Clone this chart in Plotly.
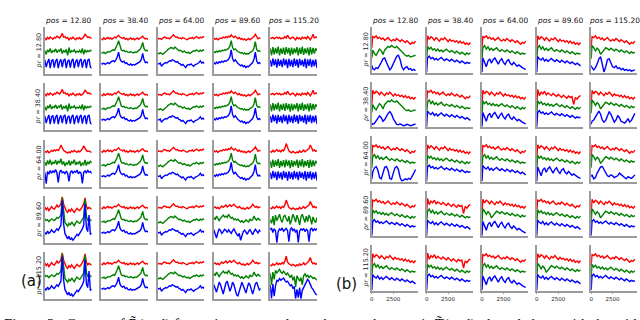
import plotly.graph_objects as go

# ---- panel (a): x index and curves (red / green / blue) ----
XA = [0, 1, 2, 3, 4, 5, 6, 7, 8, 9, 10, 11,
      12, 13, 14, 15, 16, 17, 18, 19, 20, 21, 22, 23,
      24, 25, 26, 27, 28, 29, 30, 31, 32, 33, 34, 35]

a1_r = [0.78, 0.74, 0.79, 0.76, 0.80, 0.77, 0.75, 0.79, 0.78, 0.82, 0.80, 0.78,
        0.82, 0.88, 0.80, 0.81, 0.77, 0.79, 0.73, 0.78, 0.76, 0.80, 0.77, 0.74,
        0.78, 0.76, 0.79, 0.75, 0.77, 0.80, 0.86, 0.81, 0.79, 0.80, 0.78, 0.77]
a1_g = [0.50, 0.42, 0.52, 0.47, 0.55, 0.45, 0.50, 0.48, 0.54, 0.46, 0.51, 0.49,
        0.55, 0.44, 0.50, 0.47, 0.53, 0.40, 0.57, 0.45, 0.50, 0.48, 0.52, 0.46,
        0.49, 0.47, 0.51, 0.45, 0.55, 0.42, 0.52, 0.47, 0.50, 0.48, 0.51, 0.49]
a1_b = [0.30, 0.14, 0.25, 0.32, 0.12, 0.28, 0.31, 0.13, 0.27, 0.32, 0.12, 0.26,
        0.31, 0.14, 0.29, 0.32, 0.12, 0.27, 0.30, 0.13, 0.28, 0.32, 0.12, 0.26,
        0.31, 0.14, 0.28, 0.32, 0.13, 0.27, 0.31, 0.12, 0.29, 0.32, 0.14, 0.12]

a2_r = [0.76, 0.74, 0.78, 0.75, 0.77, 0.79, 0.76, 0.78, 0.75, 0.77, 0.80, 0.78,
        0.81, 0.84, 0.80, 0.78, 0.77, 0.79, 0.75, 0.77, 0.74, 0.76, 0.78, 0.75,
        0.77, 0.74, 0.76, 0.78, 0.75, 0.77, 0.80, 0.82, 0.78, 0.76, 0.77, 0.75]
a2_g = [0.46, 0.45, 0.47, 0.44, 0.46, 0.48, 0.47, 0.49, 0.50, 0.52, 0.51, 0.56,
        0.63, 0.72, 0.58, 0.52, 0.50, 0.51, 0.48, 0.49, 0.47, 0.46, 0.48, 0.47,
        0.45, 0.47, 0.46, 0.48, 0.50, 0.53, 0.58, 0.68, 0.55, 0.50, 0.51, 0.49]
a2_b = [0.22, 0.21, 0.23, 0.20, 0.22, 0.24, 0.22, 0.25, 0.27, 0.28, 0.26, 0.30,
        0.36, 0.47, 0.32, 0.27, 0.25, 0.27, 0.22, 0.24, 0.20, 0.19, 0.21, 0.18,
        0.20, 0.19, 0.21, 0.22, 0.24, 0.26, 0.31, 0.44, 0.30, 0.24, 0.25, 0.23]

a3_r = [0.78, 0.76, 0.77, 0.75, 0.78, 0.80, 0.79, 0.77, 0.78, 0.76, 0.79, 0.82,
        0.85, 0.81, 0.79, 0.80, 0.77, 0.78, 0.76, 0.79, 0.77, 0.75, 0.74, 0.76,
        0.78, 0.77, 0.79, 0.76, 0.78, 0.81, 0.79, 0.77, 0.80, 0.78, 0.81, 0.79]
a3_g = [0.45, 0.43, 0.46, 0.44, 0.42, 0.45, 0.47, 0.50, 0.53, 0.55, 0.57, 0.56,
        0.54, 0.58, 0.55, 0.52, 0.50, 0.51, 0.48, 0.47, 0.49, 0.46, 0.45, 0.47,
        0.44, 0.46, 0.48, 0.50, 0.49, 0.52, 0.50, 0.48, 0.51, 0.49, 0.52, 0.50]
a3_b = [0.22, 0.21, 0.23, 0.16, 0.20, 0.22, 0.24, 0.23, 0.26, 0.28, 0.27, 0.30,
        0.29, 0.27, 0.25, 0.26, 0.22, 0.21, 0.18, 0.20, 0.17, 0.13, 0.18, 0.20,
        0.19, 0.21, 0.18, 0.16, 0.19, 0.20, 0.22, 0.24, 0.28, 0.23, 0.25, 0.22]

a4_r = [0.78, 0.75, 0.77, 0.74, 0.76, 0.78, 0.77, 0.80, 0.78, 0.81, 0.79, 0.82,
        0.80, 0.85, 0.81, 0.79, 0.82, 0.78, 0.76, 0.79, 0.75, 0.77, 0.74, 0.76,
        0.73, 0.75, 0.77, 0.74, 0.76, 0.79, 0.81, 0.86, 0.80, 0.76, 0.78, 0.77]
a4_g = [0.48, 0.46, 0.49, 0.47, 0.50, 0.48, 0.51, 0.50, 0.52, 0.51, 0.53, 0.55,
        0.60, 0.72, 0.57, 0.52, 0.54, 0.50, 0.48, 0.47, 0.45, 0.46, 0.43, 0.45,
        0.42, 0.44, 0.43, 0.46, 0.48, 0.50, 0.56, 0.70, 0.53, 0.49, 0.50, 0.48]
a4_b = [0.24, 0.21, 0.25, 0.22, 0.26, 0.24, 0.27, 0.25, 0.28, 0.27, 0.29, 0.31,
        0.37, 0.52, 0.33, 0.27, 0.30, 0.25, 0.22, 0.20, 0.17, 0.19, 0.15, 0.17,
        0.13, 0.16, 0.15, 0.18, 0.21, 0.24, 0.32, 0.47, 0.28, 0.22, 0.24, 0.21]

a5_r = [0.78, 0.77, 0.79, 0.76, 0.78, 0.80, 0.77, 0.79, 0.76, 0.78, 0.77, 0.81,
        0.78, 0.84, 0.79, 0.76, 0.78, 0.80, 0.77, 0.74, 0.79, 0.76, 0.78, 0.75,
        0.80, 0.77, 0.79, 0.76, 0.81, 0.78, 0.74, 0.79, 0.86, 0.78, 0.80, 0.79]
a5_g = [0.55, 0.40, 0.58, 0.42, 0.56, 0.44, 0.59, 0.40, 0.55, 0.43, 0.57, 0.41,
        0.58, 0.44, 0.56, 0.39, 0.57, 0.42, 0.55, 0.45, 0.58, 0.40, 0.56, 0.43,
        0.59, 0.41, 0.55, 0.44, 0.57, 0.40, 0.58, 0.42, 0.56, 0.44, 0.55, 0.50]
a5_b = [0.30, 0.15, 0.33, 0.18, 0.31, 0.13, 0.32, 0.17, 0.30, 0.14, 0.33, 0.18,
        0.31, 0.12, 0.32, 0.16, 0.30, 0.14, 0.33, 0.17, 0.31, 0.13, 0.32, 0.18,
        0.30, 0.15, 0.33, 0.12, 0.31, 0.17, 0.32, 0.14, 0.30, 0.16, 0.31, 0.12]

a31_r = [0.76, 0.74, 0.77, 0.73, 0.75, 0.78, 0.76, 0.79, 0.77, 0.80, 0.78, 0.82,
         0.90, 0.84, 0.78, 0.76, 0.74, 0.72, 0.75, 0.73, 0.77, 0.75, 0.78, 0.76,
         0.74, 0.77, 0.75, 0.78, 0.81, 0.88, 0.82, 0.78, 0.76, 0.77, 0.75, 0.74]
a31_g = [0.52, 0.45, 0.56, 0.48, 0.58, 0.46, 0.53, 0.49, 0.57, 0.47, 0.55, 0.50,
         0.60, 0.47, 0.54, 0.44, 0.51, 0.48, 0.56, 0.45, 0.53, 0.50, 0.58, 0.46,
         0.52, 0.48, 0.55, 0.44, 0.50, 0.47, 0.57, 0.45, 0.53, 0.49, 0.55, 0.50]
a31_b = [0.30, 0.05, 0.32, 0.26, 0.34, 0.28, 0.33, 0.30, 0.36, 0.29, 0.08, 0.30,
         0.35, 0.29, 0.31, 0.27, 0.33, 0.28, 0.10, 0.29, 0.34, 0.28, 0.32, 0.30,
         0.35, 0.27, 0.31, 0.29, 0.06, 0.30, 0.33, 0.28, 0.35, 0.30, 0.32, 0.27]

a41_r = [0.78, 0.72, 0.76, 0.70, 0.74, 0.79, 0.75, 0.73, 0.77, 0.82, 0.78, 0.80,
         0.86, 1.00, 0.84, 0.76, 0.70, 0.66, 0.72, 0.68, 0.74, 0.70, 0.66, 0.71,
         0.75, 0.72, 0.70, 0.74, 0.78, 0.84, 0.98, 0.80, 0.74, 0.77, 0.75, 0.73]
a41_g = [0.52, 0.48, 0.50, 0.46, 0.49, 0.52, 0.50, 0.48, 0.51, 0.55, 0.53, 0.56,
         0.60, 0.98, 0.62, 0.44, 0.40, 0.36, 0.42, 0.38, 0.45, 0.40, 0.37, 0.43,
         0.47, 0.44, 0.42, 0.46, 0.50, 0.56, 0.95, 0.58, 0.48, 0.52, 0.50, 0.47]
a41_b = [0.22, 0.18, 0.25, 0.20, 0.23, 0.28, 0.24, 0.22, 0.26, 0.30, 0.27, 0.32,
         0.38, 0.92, 0.40, 0.20, 0.12, 0.08, 0.14, 0.06, 0.10, 0.05, 0.09, 0.14,
         0.18, 0.15, 0.20, 0.24, 0.30, 0.38, 0.85, 0.32, 0.24, 0.60, 0.18, 0.20]

a44_r = [0.76, 0.78, 0.75, 0.77, 0.74, 0.78, 0.80, 0.77, 0.79, 0.82, 0.78, 0.80,
         0.83, 0.79, 0.81, 0.84, 0.80, 0.78, 0.76, 0.79, 0.77, 0.74, 0.76, 0.73,
         0.75, 0.77, 0.74, 0.76, 0.79, 0.84, 0.80, 0.77, 0.79, 0.76, 0.78, 0.77]
a44_g = [0.55, 0.50, 0.58, 0.52, 0.48, 0.53, 0.57, 0.60, 0.56, 0.58, 0.55, 0.62,
         0.57, 0.53, 0.55, 0.50, 0.52, 0.49, 0.51, 0.47, 0.45, 0.48, 0.44, 0.46,
         0.50, 0.47, 0.45, 0.52, 0.48, 0.50, 0.58, 0.52, 0.49, 0.53, 0.50, 0.48]
a44_b = [0.28, 0.18, 0.10, 0.22, 0.30, 0.26, 0.20, 0.24, 0.29, 0.27, 0.22, 0.28,
         0.25, 0.20, 0.26, 0.30, 0.24, 0.18, 0.14, 0.20, 0.05, 0.15, 0.24, 0.27,
         0.22, 0.18, 0.25, 0.28, 0.23, 0.17, 0.24, 0.29, 0.25, 0.21, 0.27, 0.24]
a54_b = [0.30, 0.22, 0.14, 0.25, 0.36, 0.30, 0.18, 0.10, 0.22, 0.34, 0.38, 0.28,
         0.16, 0.24, 0.36, 0.30, 0.20, 0.08, 0.06, 0.18, 0.30, 0.36, 0.28, 0.18,
         0.12, 0.24, 0.34, 0.30, 0.18, 0.10, 0.20, 0.32, 0.36, 0.26, 0.18, 0.22]

a45_r = [0.76, 0.74, 0.78, 0.75, 0.77, 0.80, 0.76, 0.78, 0.75, 0.79, 0.77, 0.83,
         0.93, 0.82, 0.77, 0.75, 0.73, 0.76, 0.74, 0.72, 0.75, 0.73, 0.77, 0.74,
         0.76, 0.79, 0.75, 0.77, 0.80, 0.82, 0.90, 0.81, 0.77, 0.79, 0.76, 0.78]
a45_g = [0.50, 0.42, 0.58, 0.38, 0.60, 0.48, 0.55, 0.62, 0.50, 0.44, 0.57, 0.60,
         0.52, 0.46, 0.58, 0.40, 0.50, 0.62, 0.55, 0.45, 0.60, 0.52, 0.38, 0.56,
         0.62, 0.50, 0.44, 0.58, 0.46, 0.60, 0.54, 0.40, 0.56, 0.48, 0.44, 0.55]
a45_b = [0.28, 0.32, 0.22, 0.30, 0.26, 0.00, 0.24, 0.30, 0.27, 0.32, 0.25, 0.29,
         0.31, 0.26, 0.02, 0.28, 0.32, 0.26, 0.30, 0.22, 0.28, 0.00, 0.25, 0.30,
         0.27, 0.31, 0.24, 0.29, 0.26, 0.02, 0.28, 0.32, 0.25, 0.30, 0.27, 0.31]

a55_r = [0.74, 0.72, 0.76, 0.73, 0.75, 0.78, 0.74, 0.77, 0.75, 0.79, 0.76, 0.82,
         0.93, 0.80, 0.76, 0.74, 0.72, 0.75, 0.73, 0.71, 0.74, 0.72, 0.76, 0.73,
         0.75, 0.78, 0.74, 0.76, 0.79, 0.83, 0.90, 0.80, 0.76, 0.78, 0.75, 0.77]
a55_g = [0.55, 0.30, 0.58, 0.42, 0.62, 0.56, 0.60, 0.64, 0.58, 0.55, 0.60, 0.57,
         0.52, 0.56, 0.50, 0.46, 0.52, 0.40, 0.48, 0.25, 0.50, 0.44, 0.38, 0.46,
         0.30, 0.50, 0.54, 0.48, 0.52, 0.45, 0.50, 0.48, 0.44, 0.46, 0.42, 0.40]
a55_b = [0.30, 0.00, 0.32, 0.05, 0.28, 0.40, 0.38, 0.44, 0.40, 0.42, 0.45, 0.40,
         0.36, 0.38, 0.32, 0.28, 0.30, 0.22, 0.26, 0.00, 0.20, 0.02, 0.24, 0.00,
         0.18, 0.24, 0.30, 0.36, 0.42, 0.38, 0.30, 0.24, 0.20, 0.14, 0.10, 0.08]

# ---- panel (b): step axis and curves ----
XB = [0, 100, 300, 500, 700, 900, 1100, 1300, 1500,
      1700, 1900, 2100, 2300, 2500, 2700, 2900, 3100, 3300,
      3500, 3700, 3900, 4100, 4300, 4500, 4700, 4900, 5100]

b_r1 = [0.55, 0.80, 0.78, 0.82, 0.76, 0.79, 0.74, 0.77, 0.72,
        0.75, 0.78, 0.73, 0.70, 0.74, 0.71, 0.76, 0.72, 0.69,
        0.73, 0.70, 0.67, 0.71, 0.66, 0.63, 0.67, 0.65, 0.70]
b_r2 = [0.50, 0.82, 0.74, 0.80, 0.77, 0.72, 0.78, 0.74, 0.70,
        0.76, 0.73, 0.78, 0.72, 0.69, 0.74, 0.70, 0.72, 0.68,
        0.71, 0.66, 0.70, 0.65, 0.68, 0.63, 0.66, 0.62, 0.67]
b_r3 = [0.52, 0.84, 0.70, 0.78, 0.74, 0.80, 0.72, 0.76, 0.73,
        0.70, 0.75, 0.72, 0.68, 0.73, 0.70, 0.66, 0.71, 0.68,
        0.64, 0.69, 0.66, 0.68, 0.50, 0.66, 0.62, 0.68, 0.70]
b_g1 = [0.30, 0.55, 0.60, 0.52, 0.57, 0.50, 0.54, 0.49, 0.52,
        0.55, 0.50, 0.47, 0.51, 0.48, 0.46, 0.50, 0.47, 0.44,
        0.48, 0.45, 0.42, 0.46, 0.43, 0.40, 0.43, 0.41, 0.42]
b_g2 = [0.28, 0.58, 0.52, 0.56, 0.50, 0.53, 0.48, 0.52, 0.47,
        0.50, 0.46, 0.49, 0.52, 0.48, 0.45, 0.49, 0.46, 0.43,
        0.47, 0.44, 0.41, 0.45, 0.42, 0.39, 0.43, 0.40, 0.44]
b_g3 = [0.30, 0.60, 0.55, 0.48, 0.54, 0.50, 0.40, 0.45, 0.52,
        0.55, 0.53, 0.50, 0.54, 0.51, 0.48, 0.52, 0.49, 0.46,
        0.50, 0.47, 0.44, 0.48, 0.45, 0.42, 0.46, 0.43, 0.45]
b_gw = [0.32, 0.50, 0.42, 0.38, 0.45, 0.52, 0.48, 0.40, 0.50,
        0.55, 0.58, 0.56, 0.60, 0.57, 0.55, 0.58, 0.54, 0.50,
        0.44, 0.40, 0.38, 0.36, 0.38, 0.34, 0.35, 0.37, 0.38]
b_b1 = [0.00, 0.32, 0.36, 0.30, 0.33, 0.28, 0.31, 0.27, 0.30,
        0.33, 0.29, 0.26, 0.30, 0.28, 0.25, 0.29, 0.26, 0.23,
        0.27, 0.24, 0.21, 0.25, 0.22, 0.19, 0.22, 0.20, 0.21]
b_b2 = [0.00, 0.35, 0.30, 0.27, 0.32, 0.25, 0.29, 0.24, 0.28,
        0.31, 0.27, 0.24, 0.28, 0.25, 0.22, 0.27, 0.24, 0.21,
        0.25, 0.22, 0.19, 0.23, 0.20, 0.17, 0.20, 0.16, 0.14]
b_b3 = [0.00, 0.32, 0.22, 0.12, 0.25, 0.30, 0.20, 0.28, 0.32,
        0.24, 0.18, 0.26, 0.30, 0.22, 0.17, 0.25, 0.28, 0.20,
        0.16, 0.22, 0.18, 0.13, 0.16, 0.12, 0.10, 0.08, 0.06]
b_bw1 = [0.15, 0.08, 0.05, 0.10, 0.08, 0.14, 0.22, 0.30, 0.32,
         0.22, 0.12, 0.05, 0.10, 0.20, 0.30, 0.36, 0.38, 0.28,
         0.12, 0.05, 0.10, 0.12, 0.06, 0.08, 0.04, 0.06, 0.03]
b_bw2 = [0.08, 0.05, 0.07, 0.12, 0.18, 0.24, 0.20, 0.12, 0.16,
         0.24, 0.30, 0.34, 0.28, 0.18, 0.10, 0.05, 0.04, 0.06,
         0.04, 0.02, 0.03, 0.05, 0.04, 0.02, 0.03, 0.05, 0.06]
b_bw3 = [0.05, 0.20, 0.30, 0.33, 0.25, 0.08, 0.05, 0.20, 0.31,
         0.33, 0.24, 0.06, 0.04, 0.18, 0.30, 0.33, 0.26, 0.08,
         0.00, 0.02, 0.05, 0.03, 0.06, 0.04, 0.10, 0.18, 0.26]
b_bw5a = [0.15, 0.10, 0.05, 0.10, 0.18, 0.30, 0.35, 0.20, 0.00,
          0.12, 0.28, 0.30, 0.20, 0.12, 0.10, 0.14, 0.08, 0.10,
          0.05, 0.08, 0.04, 0.06, 0.03, 0.05, 0.02, 0.04, 0.05]
b_bw5b = [0.05, 0.12, 0.15, 0.22, 0.30, 0.35, 0.28, 0.15, 0.10,
          0.14, 0.24, 0.33, 0.28, 0.18, 0.10, 0.15, 0.25, 0.20,
          0.12, 0.10, 0.08, 0.12, 0.18, 0.10, 0.14, 0.22, 0.30]
b_bw5c = [0.10, 0.14, 0.05, 0.08, 0.18, 0.26, 0.32, 0.33, 0.26,
          0.18, 0.12, 0.10, 0.14, 0.12, 0.08, 0.10, 0.12, 0.18,
          0.14, 0.10, 0.08, 0.05, 0.10, 0.08, 0.06, 0.10, 0.14]

POS_LABELS = ["12.80", "38.40", "64.00", "89.60", "115.20"]
PR_LABELS = ["12.80", "38.40", "64.00", "89.60", "115.20"]
B_TICKS = [0, 2500]

GRID_A = [
    [(a1_r, a1_g, a1_b), (a2_r, a2_g, a2_b), (a3_r, a3_g, a3_b), (a4_r, a4_g, a4_b), (a5_r, a5_g, a5_b)],
    [(a1_r, a1_g, a1_b), (a2_r, a2_g, a2_b), (a3_r, a3_g, a3_b), (a4_r, a4_g, a4_b), (a5_r, a5_g, a5_b)],
    [(a31_r, a31_g, a31_b), (a2_r, a2_g, a2_b), (a3_r, a3_g, a3_b), (a4_r, a4_g, a4_b), (a45_r, a5_g, a5_b)],
    [(a41_r, a41_g, a41_b), (a2_r, a2_g, a2_b), (a3_r, a3_g, a3_b), (a44_r, a44_g, a44_b), (a45_r, a45_g, a45_b)],
    [(a41_r, a41_g, a41_b), (a2_r, a2_g, a2_b), (a3_r, a3_g, a3_b), (a44_r, a44_g, a54_b), (a55_r, a55_g, a55_b)],
]
GRID_B = [
    [(b_r1, b_gw, b_bw1), (b_r2, b_g2, b_b1), (b_r1, b_g1, b_b3), (b_r2, b_g1, b_b2), (b_r1, b_g3, b_bw5a)],
    [(b_r2, b_gw, b_bw2), (b_r1, b_g1, b_b2), (b_r2, b_g2, b_b3), (b_r3, b_g2, b_b1), (b_r2, b_g3, b_bw5b)],
    [(b_r1, b_g1, b_bw3), (b_r2, b_g2, b_b1), (b_r1, b_g1, b_b2), (b_r2, b_g2, b_b3), (b_r1, b_g3, b_bw5c)],
    [(b_r1, b_g2, b_b1), (b_r3, b_g1, b_b2), (b_r2, b_g3, b_b3), (b_r1, b_g2, b_b2), (b_r2, b_g3, b_b1)],
    [(b_r2, b_g1, b_b2), (b_r3, b_g2, b_b1), (b_r1, b_g1, b_b3), (b_r2, b_g3, b_b2), (b_r1, b_g2, b_b1)],
]

W, H = 640, 320
COLORS = ["#ff0000", "#008000", "#0000ff"]
SPINE = "#9b9b9b"

# pixel layout of the two grids
A_LEFT = [43, 99.5, 156, 212.5, 269]
A_TOP = [27, 83, 139.5, 196, 252]
A_W, A_H = 47, 47
B_LEFT = [371, 426, 481.5, 536.5, 591]
B_TOP = [27, 81.5, 136, 190.5, 245]
B_W, B_H = 46, 45.5

fig = go.Figure()
layout = {}
annotations = []
k = 0


def add_panel(grid, xs, lefts, tops, w, h, xrange, is_b):
    global k
    for r in range(5):
        for c in range(5):
            k += 1
            for y, col in zip(grid[r][c], COLORS):
                if len(y) != len(xs):
                    raise ValueError(f"length mismatch r{r} c{c}")
                fig.add_trace(go.Scatter(
                    x=xs, y=y, mode="lines", line={"color": col, "width": 1.4},
                    xaxis=f"x{k}", yaxis=f"y{k}", showlegend=False, hoverinfo="skip",
                ))
            xd = [lefts[c] / W, (lefts[c] + w) / W]
            yd = [1 - (tops[r] + h) / H, 1 - tops[r] / H]
            xa = dict(domain=xd, anchor=f"y{k}", range=xrange, showgrid=False,
                      zeroline=False, showline=True, linecolor=SPINE, linewidth=1.6,
                      showticklabels=False, ticks="")
            if is_b and r == 4:
                xa.update(showticklabels=True, tickvals=B_TICKS, ticks="outside",
                          ticklen=2, tickcolor=SPINE, tickwidth=1,
                          tickfont={"size": 5.5, "color": "#222", "family": "DejaVu Sans"})
            ya = dict(domain=yd, anchor=f"x{k}", range=[-0.01, 1.02], showgrid=False,
                      zeroline=False, showline=True, linecolor=SPINE, linewidth=1.6,
                      showticklabels=False, ticks="")
            layout[f"xaxis{k}"] = xa
            layout[f"yaxis{k}"] = ya
            if r == 0:
                annotations.append(dict(
                    x=(lefts[c] + w / 2) / W, y=1 - 20 / H, xref="paper", yref="paper",
                    text=f"<i>pos</i> = {POS_LABELS[c]}", showarrow=False,
                    font={"size": 7.4, "color": "#111", "family": "DejaVu Sans"},
                    xanchor="center", yanchor="middle"))
            if c == 0:
                annotations.append(dict(
                    x=(lefts[0] - 6) / W, y=1 - (tops[r] + h / 2) / H, xref="paper", yref="paper",
                    text=f"<i>pr</i> = {PR_LABELS[r]}", showarrow=False, textangle=-90,
                    font={"size": 6.4, "color": "#222", "family": "DejaVu Sans"},
                    xanchor="center", yanchor="middle"))


add_panel(GRID_A, XA, A_LEFT, A_TOP, A_W, A_H, [0, 35], False)
add_panel(GRID_B, XB, B_LEFT, B_TOP, B_W, B_H, [0, 5350], True)

annotations.append(dict(x=17 / W, y=1 - 292 / H, xref="paper", yref="paper", text="(a)",
                        showarrow=False, font={"size": 15, "color": "#111", "family": "DejaVu Sans"}))
annotations.append(dict(x=346 / W, y=1 - 295 / H, xref="paper", yref="paper", text="(b)",
                        showarrow=False, font={"size": 15, "color": "#111", "family": "DejaVu Sans"}))
annotations.append(dict(x=0, y=1 - 314 / H, xref="paper", yref="paper", xanchor="left", yanchor="top",
                        text="Figure 3:  Curves of R̃(c, d) for various pos and pr, where each curve is T̃(c, d) plotted along with the width",
                        showarrow=False, font={"size": 15, "color": "#111", "family": "Liberation Serif"}))

fig.update_layout(
    width=W, height=H,
    margin={"l": 0, "r": 0, "t": 0, "b": 0},
    paper_bgcolor="white", plot_bgcolor="white",
    annotations=annotations,
    **layout,
)

# drop the default page margin so the 640x320 figure fills the window exactly
fig.write_html("out.html", config={"displayModeBar": False},
               post_script="document.body.style.margin='0px';")
